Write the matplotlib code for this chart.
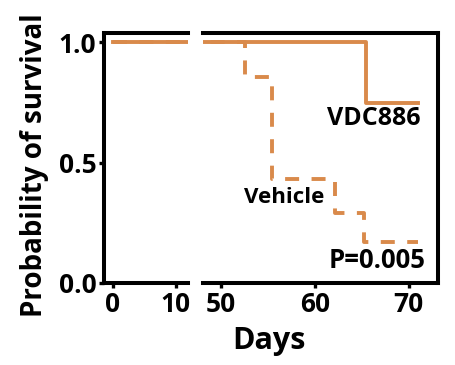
import matplotlib
matplotlib.use("Agg")
import matplotlib.pyplot as plt

# survival curves (Kaplan-Meier steps)
vdc_days = [0, 65.5, 71]
vdc_surv = [1.0, 0.75, 0.75]
veh_days = [0, 52.6, 55.5, 62.2, 65.3, 71]
veh_surv = [1.0, 0.857, 0.43, 0.29, 0.17, 0.17]

left_ticks = [0, 10]
right_ticks = [50, 60, 70]
y_ticks = [0.0, 0.5, 1.0]

orange = "#D98A4B"
plt.rcParams['font.family'] = ['Open Sans', 'DejaVu Sans']
plt.rcParams['font.weight'] = 'bold'

fig = plt.figure(figsize=(4.56, 3.65), dpi=100)
ax1 = fig.add_axes([0.228, 0.225, 0.184, 0.685])
ax2 = fig.add_axes([0.445, 0.225, 0.515, 0.685])

for ax in (ax1, ax2):
    ax.step(vdc_days, vdc_surv, where='post', color=orange, lw=2.8, zorder=3)
    ax.step(veh_days, veh_surv, where='post', color=orange, lw=2.8,
            dashes=(3.6, 3.2), zorder=3)
    ax.set_ylim(0, 1.04)
    for s in ax.spines.values():
        s.set_linewidth(2.9)
    ax.tick_params(width=2.4, length=3.5, labelsize=19, pad=2)

ax1.set_xlim(-1.4, 11.9)
ax2.set_xlim(48.1, 73.1)
ax1.set_xticks(left_ticks)
ax2.set_xticks(right_ticks)
ax1.set_yticks(y_ticks)
ax1.set_yticklabels(["0.0", "0.5", "1.0"])
ax1.spines['right'].set_visible(False)
ax2.spines['left'].set_visible(False)
ax2.tick_params(axis='y', left=False, labelleft=False)

ax1.set_ylabel("Probability of survival", fontsize=20, fontweight='bold', labelpad=2)
ax1.yaxis.set_label_coords(-0.66, 0.47)
fig.text(0.59, 0.025, "Days", fontsize=22, fontweight='bold', ha='center', va='bottom')

ax2.text(71.3, 0.685, "VDC886", fontsize=18, fontweight='bold', ha='right', va='center')
ax2.text(56.8, 0.355, "Vehicle", fontsize=16, fontweight='bold', ha='center', va='center')
ax2.text(71.8, 0.095, "P=0.005", fontsize=18.5, fontweight='bold', ha='right', va='center')

fig.savefig("out.png", dpi=100)
